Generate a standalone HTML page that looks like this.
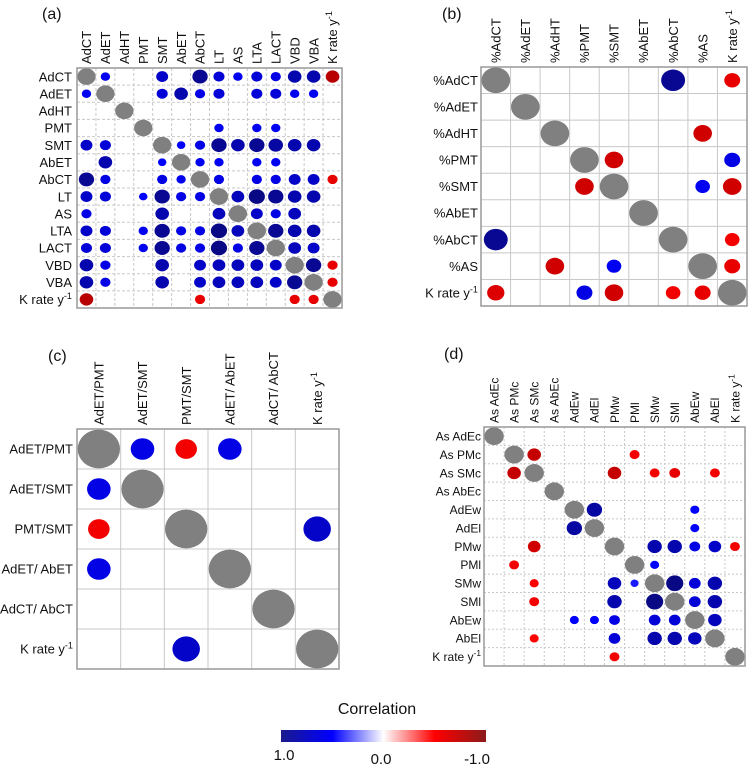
<!DOCTYPE html>
<html><head><meta charset="utf-8">
<style>
body{margin:0;background:#fff;}
svg{display:block;font-family:"Liberation Sans",Arial,sans-serif;}
</style></head>
<body>
<svg id="fig" width="749" height="769" viewBox="0 0 749 769">
  <defs>
    <linearGradient id="cbar" x1="0" x2="1" y1="0" y2="0">
      <stop offset="0" stop-color="#1a1a8c"/>
      <stop offset="0.25" stop-color="#0000ff"/>
      <stop offset="0.5" stop-color="#ffffff"/>
      <stop offset="0.75" stop-color="#ff0000"/>
      <stop offset="1" stop-color="#8b1a1a"/>
    </linearGradient>
  </defs>
  <g>
    <text x="377" y="714" font-size="16" text-anchor="middle" fill="#111">Correlation</text>
    <rect x="281" y="730" width="205" height="12" fill="url(#cbar)"/>
    <text x="284" y="760" font-size="15" text-anchor="middle" fill="#111">1.0</text>
    <text x="381" y="764" font-size="15" text-anchor="middle" fill="#111">0.0</text>
    <text x="477" y="764" font-size="15" text-anchor="middle" fill="#111">-1.0</text>
  </g>
</svg>
<script>
// ---- Panel (a) ----
const aLabels = ["AdCT","AdET","AdHT","PMT","SMT","AbET","AbCT","LT","AS","LTA","LACT","VBD","VBA","K"];
const aValues = [
[1,.55,0,0,.7,0,.9,.65,.55,.65,.6,.8,.8,-.8],
[.55,1,0,0,.65,.8,.6,.65,0,.65,.65,.55,.55,0],
[0,0,1,0,0,0,0,0,0,0,0,0,0,0],
[0,0,0,1,0,0,0,.55,0,.55,.55,0,0,0],
[.7,.65,0,0,1,.5,.6,.9,.8,.9,.85,.8,.8,0],
[0,.8,0,0,.5,1,.55,.55,0,.55,.55,0,0,0],
[.9,.6,0,0,.6,.55,1,.6,0,.6,.6,.7,.7,-.6],
[.7,.65,0,.5,.9,.6,.6,1,.75,.95,.9,.8,.8,0],
[.6,0,0,0,.8,0,0,.75,1,.7,.6,.75,0,0],
[.7,.65,0,.55,.9,.6,.6,.95,.75,1,.9,.8,.8,0],
[.65,.65,0,.55,.9,.6,.6,.95,.6,.9,1,.75,.7,0],
[.8,.6,0,0,.8,0,.7,.75,.75,.75,.7,1,.9,-.6],
[.8,.6,0,0,.8,0,.7,.75,.75,.75,.7,.9,1,-.6],
[-.8,0,0,0,0,0,-.6,0,0,0,0,-.6,-.6,1]];
// ---- Panel (b) ----
const bLabels = ["%AdCT","%AdET","%AdHT","%PMT","%SMT","%AbET","%AbCT","%AS","K"];
const bValues = [
[1,0,0,0,0,0,.9,0,-.6],
[0,1,0,0,0,0,0,0,0],
[0,0,1,0,0,0,0,-.7,0],
[0,0,0,1,-.7,0,0,0,.6],
[0,0,0,-.7,1,0,0,.55,-.7],
[0,0,0,0,0,1,0,0,0],
[.9,0,0,0,0,0,1,0,-.55],
[0,0,-.7,0,.55,0,0,1,-.6],
[-.65,0,0,.6,-.7,0,-.55,-.6,1]];
// ---- Panel (c) ----
const cLabels = ["AdET/PMT","AdET/SMT","PMT/SMT","AdET/ AbET","AdCT/ AbCT","K"];
const cValues = [
[1,.6,-.55,.6,0,0],
[.6,1,0,0,0,0],
[-.55,0,1,0,0,.7],
[.6,0,0,1,0,0],
[0,0,0,0,1,0],
[0,0,.7,0,0,1]];
// ---- Panel (d) ----
const dLabels = ["As AdEc","As PMc","As SMc","As AbEc","AdEw","AdEl","PMw","PMl","SMw","SMl","AbEw","AbEl","K"];
const dValues = [
[1,0,0,0,0,0,0,0,0,0,0,0,0],
[0,1,-.75,0,0,0,0,-.55,0,0,0,0,0],
[0,-.75,1,0,0,0,-.75,0,-.55,-.6,0,-.55,0],
[0,0,0,1,0,0,0,0,0,0,0,0,0],
[0,0,0,0,1,.85,0,0,0,0,.5,0,0],
[0,0,0,0,.85,1,0,0,0,0,.5,0,0],
[0,0,-.7,0,0,0,1,0,.8,.8,.6,.7,-.55],
[0,-.55,0,0,0,0,0,1,.5,0,0,0,0],
[0,0,-.5,0,0,0,.75,.45,1,.95,.65,.8,0],
[0,0,-.55,0,0,0,.8,0,.95,1,.65,.8,0],
[0,0,0,0,.5,.5,.6,0,.65,.65,1,.75,0],
[0,0,-.5,0,0,0,.65,0,.8,.8,.75,1,0],
[0,0,0,0,0,0,-.55,0,0,0,0,0,1]];

const NS="http://www.w3.org/2000/svg";
const svg=document.getElementById('fig');
function mk(tag,attrs,parent){const e=document.createElementNS(NS,tag);for(const k in attrs)e.setAttribute(k,attrs[k]);parent.appendChild(e);return e;}
function lerp(a,b,t){return a.map((v,i)=>Math.round(v+(b[i]-v)*t));}
function color(r){
  const navy=[10,10,120],blue=[0,0,255],white=[255,255,255],red=[255,0,0],dred=[139,0,0];
  let c;
  if(r>=0){c=r<.5?lerp(white,blue,r/.5):lerp(blue,navy,(r-.5)/.5);}
  else{const a=-r;c=a<.5?lerp(white,red,a/.5):lerp(red,dred,(a-.5)/.5);}
  return `rgb(${c[0]},${c[1]},${c[2]})`;
}
function labelText(el,lab){
  if(lab==="K"){el.textContent="K rate y";const t=document.createElementNS(NS,'tspan');t.setAttribute('baseline-shift','super');t.setAttribute('font-size','70%');t.textContent='-1';el.appendChild(t);}
  else el.textContent=lab;
}
function panel(name,tag,labels,values,x0,x1,y0,y1,fs,dash,rowRight,tagX,tagY){
  const g=mk('g',{},svg);
  
  
  const n=labels.length,cw=(x1-x0)/n,ch=(y1-y0)/n;
  const xs=i=>x0+cw*(i+.5), ys=j=>y0+ch*(j+.5);
  const pt=mk('text',{x:tagX,y:tagY,'font-size':16,fill:'#111'},g);pt.textContent=tag;
  
  
  for(let i=1;i<n;i++){
    const l1=mk('line',{x1:x0+cw*i,x2:x0+cw*i,y1:y0,y2:y1,stroke:'#c8c8c8','stroke-width':1,'stroke-dasharray':dash},g);
    
    
    const l2=mk('line',{x1:x0,x2:x1,y1:y0+ch*i,y2:y0+ch*i,stroke:'#c8c8c8','stroke-width':1,'stroke-dasharray':dash},g);
    
    
  }
  for(let j=0;j<n;j++)for(let i=0;i<n;i++){
    const r=values[j][i]; if(!r)continue;
    const diag=i===j;
    const s=diag?0.97:Math.abs(r)*0.9;
    const e=mk('ellipse',{cx:xs(i),cy:ys(j),rx:cw/2*s,ry:ch/2*s,fill:diag?'#808080':color(r)},g);
    
    
  }
  const b=mk('rect',{x:x0,y:y0,width:x1-x0,height:y1-y0,fill:'none',stroke:'#999','stroke-width':1.5},g);
  
  
  labels.forEach((lab,i)=>{
    const t=mk('text',{x:rowRight,y:ys(i)+fs*0.36,'font-size':fs,'text-anchor':'end',fill:'#111'},g);
    labelText(t,lab);
    
    
    const cx=xs(i)+fs*0.36, cy=y0-4;
    const c=mk('text',{x:cx,y:cy,'font-size':fs,transform:`rotate(-90 ${cx} ${cy})`,fill:'#111'},g);
    labelText(c,lab);
    
    
  });
}
panel('panel-a','(a)',aLabels,aValues,77,342,68,308,13,'3,2',72,42,19);
panel('panel-b','(b)',bLabels,bValues,481,747,67,306,13,'none',478,442,19);
panel('panel-c','(c)',cLabels,cValues,77,339,429,669,13,'none',73,48,361);
panel('panel-d','(d)',dLabels,dValues,484,745,427,666,12,'2,2',481,444,359);
</script>
</body></html>
